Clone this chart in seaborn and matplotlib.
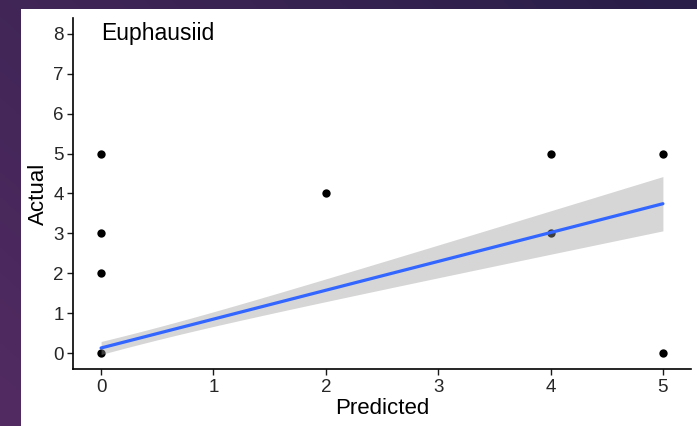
import numpy as np
import pandas as pd
import matplotlib
matplotlib.use("Agg")
import matplotlib.pyplot as plt
from matplotlib.patches import Rectangle
import seaborn as sns

# Observed (predicted, actual) pairs and how many times each pair occurs
predicted = [0, 0, 0, 0, 2, 4, 4, 5, 5]
actual = [0, 2, 3, 5, 4, 5, 3, 5, 0]
counts = [90, 1, 1, 1, 1, 1, 4, 1, 1]

x_ticks = [0, 1, 2, 3, 4, 5]
y_ticks = [0, 1, 2, 3, 4, 5, 6, 7, 8]
panel_title = "Euphausiid"

pairs = pd.DataFrame({"Predicted": predicted, "Actual": actual})
df = pd.DataFrame({
    "Predicted": np.repeat(predicted, counts),
    "Actual": np.repeat(actual, counts),
})

sns.set_style("ticks")
plt.rcParams["font.family"] = ["Liberation Sans", "DejaVu Sans"]

W, H = 697, 426
fig = plt.figure(figsize=(W / 100, H / 100), dpi=100)

# slide-style purple backdrop with a white card
bg = fig.add_axes([0, 0, 1, 1], zorder=-10)
gx = np.linspace(0, 1, 256)
gy = np.linspace(0, 1, 256)
GX, GY = np.meshgrid(gx, gy)
t = np.clip(0.6 * GX + 0.4 * (1 - GY), 0, 1)
c0 = np.array([0x52, 0x2b, 0x62]) / 255
c1 = np.array([0x28, 0x1e, 0x48]) / 255
img = c0[None, None, :] * (1 - t[..., None]) + c1[None, None, :] * t[..., None]
bg.imshow(img, extent=[0, 1, 0, 1], aspect="auto", origin="upper")
bg.add_patch(Rectangle((21 / W, 0), 1 - 21 / W, 1 - 9 / H,
                       transform=bg.transAxes, facecolor="white", edgecolor="none"))
bg.set_xlim(0, 1)
bg.set_ylim(0, 1)
bg.axis("off")

ax = fig.add_axes([73 / W, 1 - 369 / H, (691 - 73) / W, (369 - 18) / H])
ax.set_facecolor("none")

# one dot per distinct pair (duplicates overplot anyway)
sns.scatterplot(data=pairs, x="Predicted", y="Actual", ax=ax, color="black",
                s=36, linewidth=0, zorder=2)

# OLS line over all observations; the band is the analytic 95% confidence interval
sns.regplot(data=df, x="Predicted", y="Actual", ax=ax, ci=None, truncate=True,
            scatter=False, line_kws=dict(color="#3366FF", lw=2.3, zorder=4))

x = df["Predicted"].to_numpy(float)
y = df["Actual"].to_numpy(float)
n = len(x)
slope, intercept = np.polyfit(x, y, 1)
resid = y - (intercept + slope * x)
s = np.sqrt(np.sum(resid ** 2) / (n - 2))
sxx = np.sum((x - x.mean()) ** 2)
t_crit = 1.984  # Student t, 0.975 quantile, ~99 d.o.f.
xg = np.linspace(x.min(), x.max(), 100)
yg = intercept + slope * xg
half = t_crit * s * np.sqrt(1 / n + (xg - x.mean()) ** 2 / sxx)
ax.fill_between(xg, yg - half, yg + half, color="#999999", alpha=0.4,
                linewidth=0, zorder=3)

ax.set_xlim(-0.25, 5.25)
ax.set_ylim(-0.4, 8.4)
ax.set_xticks(x_ticks)
ax.set_yticks(y_ticks)
ax.tick_params(axis="both", labelsize=13.5, colors="#1a1a1a", length=4.5,
               width=1, pad=2, labelcolor="#262626")
ax.tick_params(axis="x", pad=3)
for side in ("top", "right"):
    ax.spines[side].set_visible(False)
for side in ("left", "bottom"):
    ax.spines[side].set_linewidth(1.2)
    ax.spines[side].set_color("black")

ax.set_xlabel("Predicted", fontsize=16, labelpad=1, color="black")
ax.set_ylabel("Actual", fontsize=16, labelpad=3, color="black")
ax.text(0, 8, panel_title, fontsize=16.5, ha="left", va="center", color="black")

fig.savefig("out.png", dpi=100)
